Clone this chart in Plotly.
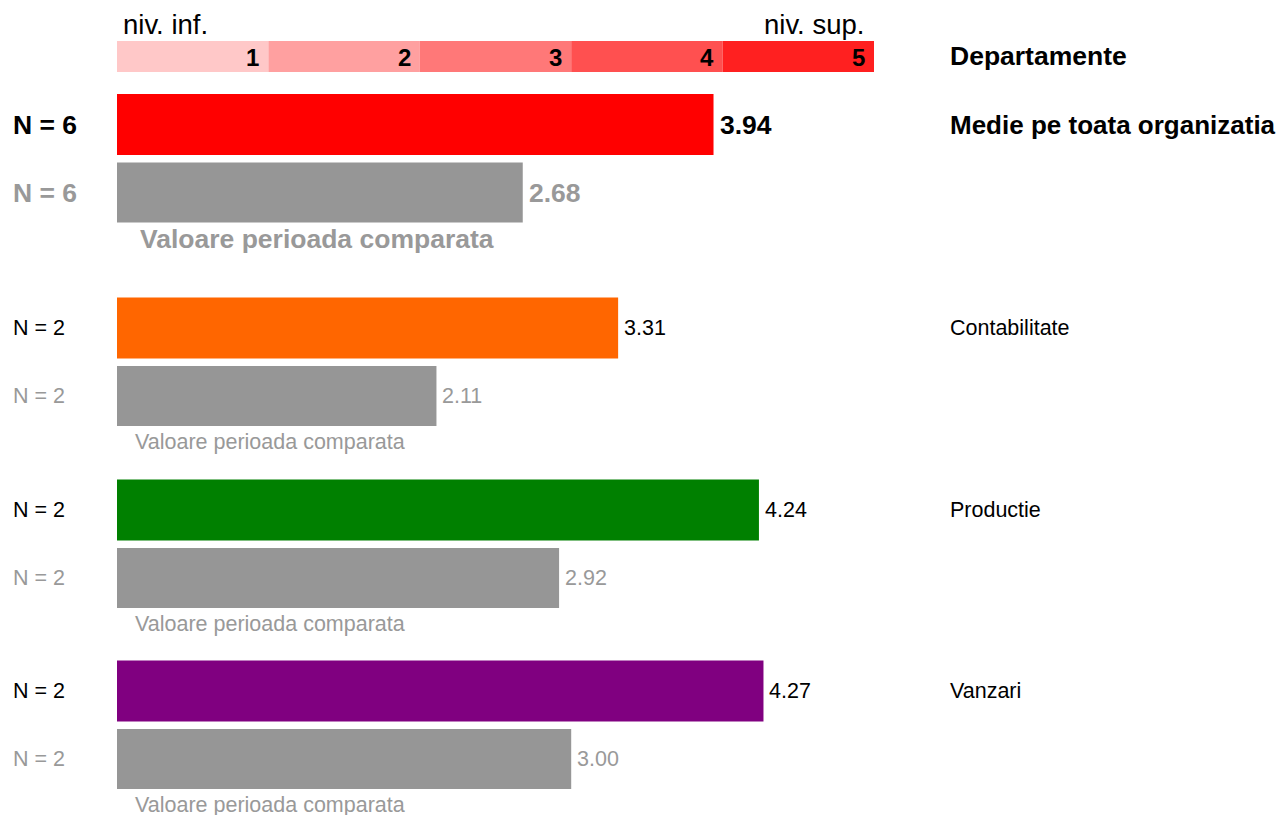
import plotly.graph_objects as go

# ---------------- data ----------------
groups = ["Medie pe toata organizatia", "Contabilitate", "Productie", "Vanzari"]
current_values = [3.94, 3.31, 4.24, 4.27]
compare_values = [2.68, 2.11, 2.92, 3.00]
current_n = [6, 2, 2, 2]
compare_n = [6, 2, 2, 2]
group_colors = ["#FF0000", "#FF6600", "#008000", "#800080"]
scale_levels = [1, 2, 3, 4, 5]
scale_colors = ["#FFC8C8", "#FFA0A0", "#FF7878", "#FF5050", "#FF2020"]
compare_label = "Valoare perioada comparata"
header_right = "Departamente"
low_label = "niv. inf."
high_label = "niv. sup."

# ---------------- layout helpers (pixel geometry) ----------------
W, H = 1284, 815

X0_PX, X5_PX = 117, 874
unit = (X5_PX - X0_PX) / 5.0
x_range = [-X0_PX / unit, (W - X0_PX) / unit]

group_centers = [124.5, 328, 510, 691]
pair_gap = 68
bar_h = 61
FONT = "Liberation Sans, Arial, sans-serif"
GRAY_BAR = "#969696"
GRAY_TXT = "#999999"
BIG = 26.5
SMALL = 21.5

fig = go.Figure()

# scale strip
fig.add_trace(go.Bar(
    orientation="h",
    x=[1] * len(scale_levels),
    base=[lv - 1 for lv in scale_levels],
    y=[56.5] * len(scale_levels),
    width=31,
    marker=dict(color=scale_colors, line=dict(width=0)),
    hoverinfo="skip",
    showlegend=False,
))

# current bars
fig.add_trace(go.Bar(
    orientation="h",
    x=current_values,
    base=[0] * len(current_values),
    y=group_centers,
    width=bar_h,
    marker=dict(color=group_colors, line=dict(width=0)),
    hoverinfo="skip",
    showlegend=False,
))
# comparison bars
fig.add_trace(go.Bar(
    orientation="h",
    x=compare_values,
    base=[0] * len(compare_values),
    y=[c + pair_gap for c in group_centers],
    width=bar_h - 1,
    marker=dict(color=GRAY_BAR, line=dict(width=0)),
    hoverinfo="skip",
    showlegend=False,
))

ann = []
# scale numbers
for lv in scale_levels:
    ann.append(dict(x=lv, y=57, xref="x", yref="y", text=f"<b>{lv}</b>", showarrow=False,
                    xanchor="right", yanchor="middle", xshift=-7,
                    font=dict(family=FONT, size=24, color="black")))
# header texts
ann.append(dict(x=121 / W, y=24, xref="paper", yref="y", text=low_label, showarrow=False,
                xanchor="left", yanchor="middle", font=dict(family=FONT, size=27.5, color="black")))
ann.append(dict(x=866 / W, y=24, xref="paper", yref="y", text=high_label, showarrow=False,
                xanchor="right", yanchor="middle", font=dict(family=FONT, size=27.5, color="black")))
ann.append(dict(x=948 / W, y=56, xref="paper", yref="y", text=f"<b>{header_right}</b>", showarrow=False,
                xanchor="left", yanchor="middle", font=dict(family=FONT, size=BIG, color="black")))

for i, g in enumerate(groups):
    yc = group_centers[i]
    yp = yc + pair_gap
    main = (i == 0)
    size = BIG if main else SMALL
    b = (lambda s: f"<b>{s}</b>") if main else (lambda s: s)
    # N labels
    ann.append(dict(x=11 / W, y=yc, xref="paper", yref="y", text=b(f"N = {current_n[i]}"), showarrow=False,
                    xanchor="left", yanchor="middle", font=dict(family=FONT, size=size, color="black")))
    ann.append(dict(x=11 / W, y=yp, xref="paper", yref="y", text=b(f"N = {compare_n[i]}"), showarrow=False,
                    xanchor="left", yanchor="middle", font=dict(family=FONT, size=size, color=GRAY_TXT)))
    # value labels
    ann.append(dict(x=current_values[i], y=yc, xref="x", yref="y", text=b(f"{current_values[i]:.2f}"),
                    showarrow=False, xanchor="left", yanchor="middle", xshift=4,
                    font=dict(family=FONT, size=size, color="black")))
    ann.append(dict(x=compare_values[i], y=yp, xref="x", yref="y", text=b(f"{compare_values[i]:.2f}"),
                    showarrow=False, xanchor="left", yanchor="middle", xshift=4,
                    font=dict(family=FONT, size=size, color=GRAY_TXT)))
    # comparison caption
    ann.append(dict(x=(138 if main else 133) / W, y=yp + 46, xref="paper", yref="y", text=b(compare_label),
                    showarrow=False, xanchor="left", yanchor="middle",
                    font=dict(family=FONT, size=size, color=GRAY_TXT)))
    # group name on right
    ann.append(dict(x=948 / W, y=yc, xref="paper", yref="y", text=b(g), showarrow=False,
                    xanchor="left", yanchor="middle",
                    font=dict(family=FONT, size=(26 if main else SMALL), color="black")))

fig.update_layout(
    width=W, height=H,
    margin=dict(l=0, r=0, t=0, b=0),
    paper_bgcolor="white", plot_bgcolor="white",
    barmode="overlay",
    xaxis=dict(range=x_range, visible=False, fixedrange=True),
    yaxis=dict(range=[H, 0], visible=False, fixedrange=True),
    annotations=ann,
    showlegend=False,
)

fig.write_html(
    "out.html",
    config={"displayModeBar": False},
    post_script="document.body.style.margin='0';document.body.style.overflow='hidden';",
)
